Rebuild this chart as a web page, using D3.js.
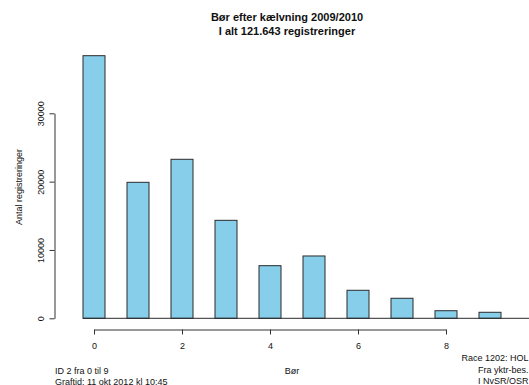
<!DOCTYPE html>
<html>
<head>
<meta charset="utf-8">
<script src="https://cdn.jsdelivr.net/npm/d3@7"></script>
<style>
  html, body { margin: 0; padding: 0; background: #fff; }
  svg { display: block; font-family: "Liberation Sans", Arial, sans-serif; }
</style>
</head>
<body>
<svg id="chart" width="529" height="385"></svg>
<script>
// Number of cows by parity after calving, 2009/2010
const categories = [0, 1, 2, 3, 4, 5, 6, 7, 8, 9];
const counts = [38430, 19900, 23270, 14340, 7700, 9120, 4100, 2930, 1110, 880];
const xTickValues = [0, 2, 4, 6, 8];
const yTickValues = [0, 10000, 20000, 30000];

const titleLines = ["Bør efter kælvning 2009/2010", "I alt 121.643 registreringer"];
const xTitle = "Bør";
const yTitle = "Antal registreringer";
const footLeft = ["ID 2 fra 0 til 9", "Graftid: 11 okt 2012 kl 10:45"];
const footRight = ["Race 1202: HOL", "Fra yktr-bes.", "I NvSR/OSR"];

const svg = d3.select("#chart");

const x = d3.scaleLinear().domain([0, 8]).range([94, 446]);
const y = d3.scaleLinear().domain([0, 30000]).range([318.3, 113.3]);
const barW = x(0.5) - x(0);

// Bars
svg.append("g")
  .selectAll("rect")
  .data(categories)
  .join("rect")
  .attr("x", (d) => x(d) - barW / 2)
  .attr("y", (d, i) => y(counts[i]))
  .attr("width", barW)
  .attr("height", (d, i) => y(0) - y(counts[i]))
  .attr("fill", "#87ceeb")
  .attr("stroke", "#2b2b2b")
  .attr("stroke-width", 1);

// Baseline under the bars
svg.append("line")
  .attr("x1", x(categories[0]) - barW / 2).attr("x2", 529)
  .attr("y1", y(0)).attr("y2", y(0))
  .attr("stroke", "#2b2b2b").attr("stroke-width", 1);

// X axis
const xAxis = svg.append("g")
  .attr("transform", "translate(0,329.5)")
  .call(d3.axisBottom(x).tickValues(xTickValues).tickSize(5).tickSizeOuter(0).tickPadding(8));
xAxis.select(".domain").attr("stroke", "#333");
xAxis.selectAll(".tick line").attr("stroke", "#333");
xAxis.selectAll("text").attr("font-size", 9).attr("fill", "#111").attr("font-family", "Liberation Sans, Arial, sans-serif");

// Y axis
const yAxis = svg.append("g")
  .attr("transform", "translate(54.5,0)")
  .call(d3.axisLeft(y).tickValues(yTickValues).tickSize(5).tickSizeOuter(0).tickFormat(d3.format("d")));
yAxis.select(".domain").attr("stroke", "#333");
yAxis.selectAll(".tick line").attr("stroke", "#333");
yAxis.selectAll("text")
  .attr("font-size", 9).attr("fill", "#111")
  .attr("font-family", "Liberation Sans, Arial, sans-serif")
  .attr("x", 0).attr("dy", 0)
  .attr("text-anchor", "middle")
  .attr("transform", "translate(-11,0) rotate(-90)");

// Titles
svg.append("g").selectAll("text")
  .data(titleLines)
  .join("text")
  .attr("x", 287)
  .attr("y", (d, i) => 20.5 + i * 14)
  .attr("text-anchor", "middle")
  .attr("font-size", 11)
  .attr("font-weight", "bold")
  .attr("fill", "#111")
  .text((d) => d);

svg.append("text")
  .attr("x", 292).attr("y", 373.5)
  .attr("text-anchor", "middle")
  .attr("font-size", 9).attr("fill", "#111")
  .text(xTitle);

svg.append("text")
  .attr("transform", "translate(21.5,187) rotate(-90)")
  .attr("text-anchor", "middle")
  .attr("font-size", 9).attr("fill", "#111")
  .text(yTitle);

// Footnotes
svg.append("g").selectAll("text")
  .data(footLeft)
  .join("text")
  .attr("x", 55)
  .attr("y", (d, i) => 373.5 + i * 11)
  .attr("font-size", 9).attr("fill", "#111")
  .text((d) => d);

svg.append("g").selectAll("text")
  .data(footRight)
  .join("text")
  .attr("x", 528.5)
  .attr("y", (d, i) => 361 + i * 11.5)
  .attr("text-anchor", "end")
  .attr("font-size", 9).attr("fill", "#111")
  .text((d) => d);
</script>
</body>
</html>
